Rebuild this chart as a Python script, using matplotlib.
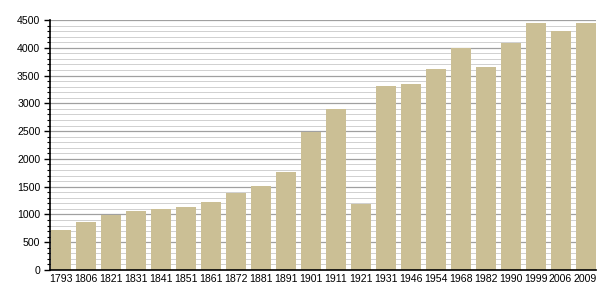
import matplotlib
matplotlib.use('Agg')
import matplotlib.pyplot as plt
import numpy as np

years = ['1793', '1806', '1821', '1831', '1841', '1851', '1861', '1872', '1881', '1891', '1901',
         '1911', '1921', '1931', '1946', '1954', '1968', '1982', '1990', '1999', '2006', '2009']
population = [725, 870, 990, 1065, 1095, 1140, 1230, 1380, 1515, 1765, 2485,
              2900, 1195, 3310, 3340, 3620, 3990, 3655, 4080, 4450, 4300, 4450]

plt.rcParams['font.family'] = ['Liberation Sans', 'DejaVu Sans']

fig = plt.figure(figsize=(6.05, 3.0), dpi=100)
ax = fig.add_axes([50 / 605, 30 / 300, 546 / 605, 250 / 300])

x = np.arange(len(years))

# grid: minor every 100, major every 500
for v in range(100, 4501, 100):
    if v % 500 == 0:
        ax.axhline(v, color='#a0a0a0', lw=0.9, zorder=1)
    else:
        ax.axhline(v, color='#d0d0d0', lw=0.7, zorder=1)

ax.bar(x, population, width=0.8, color='#cbbf95', zorder=2)

ax.set_xlim(-0.44, 21.42)
ax.set_ylim(0, 4500)
ax.set_xticks(x)
ax.set_xticklabels(years, fontsize=7.6)
ax.set_yticks(range(0, 4501, 500))
ax.set_yticks(range(0, 4501, 100), minor=True)
ax.tick_params(axis='y', which='major', labelsize=7.6, length=4, width=1, direction='out', pad=3)
ax.tick_params(axis='y', which='minor', length=2, width=0.8, direction='out')
ax.tick_params(axis='x', length=0, pad=3)

for s in ['top', 'right']:
    ax.spines[s].set_visible(False)
ax.spines['left'].set_linewidth(1.2)
ax.spines['bottom'].set_linewidth(1.2)

fig.savefig('out.png', dpi=100)
